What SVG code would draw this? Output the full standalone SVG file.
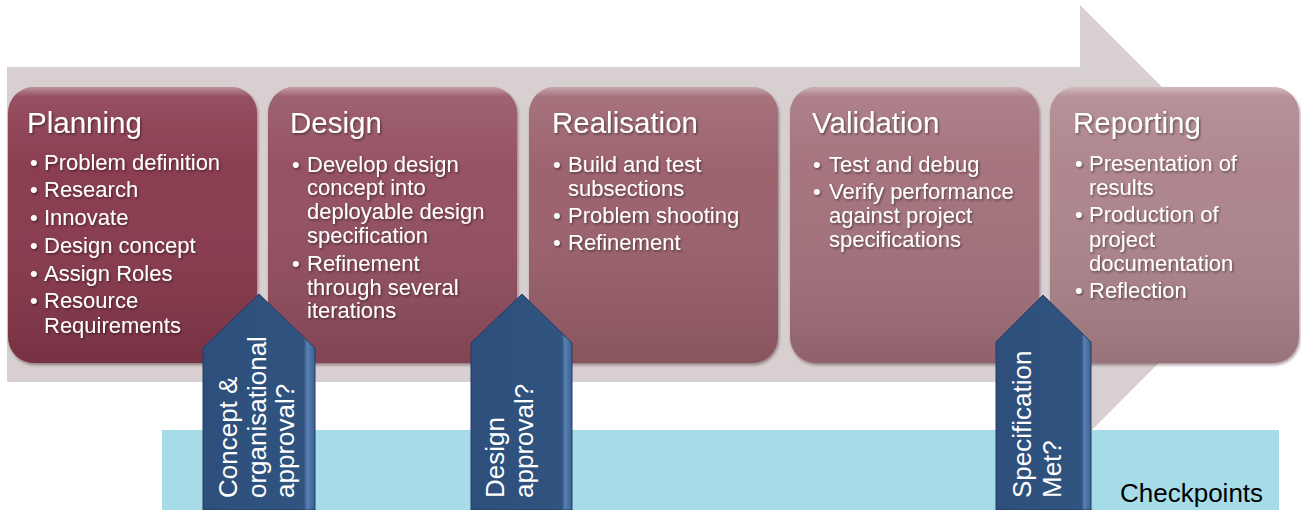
<svg xmlns="http://www.w3.org/2000/svg" width="1301" height="510" viewBox="0 0 1301 510">
  <defs>
    <linearGradient id="shade" x1="0" y1="0" x2="0" y2="1">
      <stop offset="0" stop-color="#ffffff" stop-opacity="0.45"/>
      <stop offset="0.035" stop-color="#ffffff" stop-opacity="0.12"/>
      <stop offset="0.3" stop-color="#ffffff" stop-opacity="0.03"/>
      <stop offset="1" stop-color="#000000" stop-opacity="0.12"/>
    </linearGradient>
    <linearGradient id="blueFill" x1="0" y1="0" x2="1" y2="0">
      <stop offset="0" stop-color="#2e4f7c"/>
      <stop offset="0.9" stop-color="#30537f"/>
      <stop offset="0.93" stop-color="#5a80b3"/>
      <stop offset="1" stop-color="#3b6193"/>
    </linearGradient>
    <filter id="boxShadow" x="-5%" y="-5%" width="110%" height="112%">
      <feDropShadow dx="1" dy="2" stdDeviation="1.5" flood-color="#3a1a22" flood-opacity="0.45"/>
    </filter>
    <filter id="txtShadow" x="-5%" y="-20%" width="110%" height="140%">
      <feDropShadow dx="1.2" dy="1.5" stdDeviation="0.8" flood-color="#000000" flood-opacity="0.45"/>
    </filter>
    <style>
      .box { stroke: none; }
      .title { font-family: "Liberation Sans", Arial, sans-serif; font-size: 29.5px; fill: #ffffff; }
      .item { font-family: "Liberation Sans", Arial, sans-serif; font-size: 22px; fill: #ffffff; }
      .cp { fill: url(#blueFill); stroke: #223c62; stroke-width: 1; }
      .cptxt { font-family: "Liberation Sans", Arial, sans-serif; font-size: 26px; fill: #ffffff; }
      .lbl { font-family: "Liberation Sans", Arial, sans-serif; font-size: 26px; fill: #000000; }
    </style>
  </defs>

  <!-- background process arrow -->
  <polygon points="7,67 1080,67 1080,5 1298,223 1080,442 1080,382 7,382" fill="#d7cfd0"/>
  <!-- checkpoint band -->
  <rect x="162" y="430" width="1117" height="80" fill="#a6dce8"/>
  <text class="lbl" x="1120" y="502">Checkpoints</text>

  <g id="connectors"/>

  <g id="planning">
    <rect class="box" x="8" y="87" width="249" height="276" rx="26" fill="#87394c" filter="url(#boxShadow)"/>
    <rect x="8" y="87" width="249" height="276" rx="26" fill="url(#shade)"/>
    <g filter="url(#txtShadow)">
      <text class="title" x="27" y="133">Planning</text>
      <text class="item" x="30" y="170">•</text><text class="item" x="44" y="170">Problem definition</text>
      <text class="item" x="30" y="197">•</text><text class="item" x="44" y="197">Research</text>
      <text class="item" x="30" y="225">•</text><text class="item" x="44" y="225">Innovate</text>
      <text class="item" x="30" y="253">•</text><text class="item" x="44" y="253">Design concept</text>
      <text class="item" x="30" y="281">•</text><text class="item" x="44" y="281">Assign Roles</text>
      <text class="item" x="30" y="308">•</text><text class="item" x="44" y="308">Resource</text>
      <text class="item" x="44" y="333">Requirements</text>
    </g>
  </g>

  <g id="design">
    <rect class="box" x="268" y="87" width="249" height="276" rx="26" fill="#924e5e" filter="url(#boxShadow)"/>
    <rect x="268" y="87" width="249" height="276" rx="26" fill="url(#shade)"/>
    <g filter="url(#txtShadow)">
      <text class="title" x="290" y="133">Design</text>
      <text class="item" x="292" y="172">•</text><text class="item" x="307" y="172">Develop design</text>
      <text class="item" x="307" y="195">concept into</text>
      <text class="item" x="307" y="219">deployable design</text>
      <text class="item" x="307" y="243">specification</text>
      <text class="item" x="292" y="271">•</text><text class="item" x="307" y="271">Refinement</text>
      <text class="item" x="307" y="295">through several</text>
      <text class="item" x="307" y="318">iterations</text>
    </g>
  </g>

  <g id="realisation">
    <rect class="box" x="529" y="87" width="249" height="276" rx="26" fill="#9a5e6a" filter="url(#boxShadow)"/>
    <rect x="529" y="87" width="249" height="276" rx="26" fill="url(#shade)"/>
    <g filter="url(#txtShadow)">
      <text class="title" x="552" y="133">Realisation</text>
      <text class="item" x="553" y="172">•</text><text class="item" x="568" y="172">Build and test</text>
      <text class="item" x="568" y="196">subsections</text>
      <text class="item" x="553" y="223">•</text><text class="item" x="568" y="223">Problem shooting</text>
      <text class="item" x="553" y="250">•</text><text class="item" x="568" y="250">Refinement</text>
    </g>
  </g>

  <g id="validation">
    <rect class="box" x="790" y="87" width="249" height="276" rx="26" fill="#a3707a" filter="url(#boxShadow)"/>
    <rect x="790" y="87" width="249" height="276" rx="26" fill="url(#shade)"/>
    <g filter="url(#txtShadow)">
      <text class="title" x="812" y="133">Validation</text>
      <text class="item" x="813" y="172">•</text><text class="item" x="829" y="172">Test and debug</text>
      <text class="item" x="813" y="199">•</text><text class="item" x="829" y="199">Verify performance</text>
      <text class="item" x="829" y="223">against project</text>
      <text class="item" x="829" y="247">specifications</text>
    </g>
  </g>

  <g id="reporting">
    <rect class="box" x="1050" y="87" width="249" height="276" rx="26" fill="#ad838b" filter="url(#boxShadow)"/>
    <rect x="1050" y="87" width="249" height="276" rx="26" fill="url(#shade)"/>
    <g filter="url(#txtShadow)">
      <text class="title" x="1073" y="133">Reporting</text>
      <text class="item" x="1075" y="171">•</text><text class="item" x="1089" y="171">Presentation of</text>
      <text class="item" x="1089" y="195">results</text>
      <text class="item" x="1075" y="222">•</text><text class="item" x="1089" y="222">Production of</text>
      <text class="item" x="1089" y="247">project</text>
      <text class="item" x="1089" y="271">documentation</text>
      <text class="item" x="1075" y="298">•</text><text class="item" x="1089" y="298">Reflection</text>
    </g>
  </g>

  <g id="checkpoint-concept">
    <polygon class="cp" points="203,510 203,348 259,294 315,348 315,510"/>
    <text class="cptxt" transform="translate(237,498) rotate(-90)">Concept &amp;</text>
    <text class="cptxt" transform="translate(266,498) rotate(-90)">organisational</text>
    <text class="cptxt" transform="translate(294,498) rotate(-90)">approval?</text>
  </g>

  <g id="checkpoint-design">
    <polygon class="cp" points="471,510 471,343 522,294 572,343 572,510"/>
    <text class="cptxt" transform="translate(504,498) rotate(-90)">Design</text>
    <text class="cptxt" transform="translate(533,498) rotate(-90)">approval?</text>
  </g>

  <g id="checkpoint-spec">
    <polygon class="cp" points="996,510 996,342 1043,295 1091,342 1091,510"/>
    <text class="cptxt" transform="translate(1031,498) rotate(-90)">Specification</text>
    <text class="cptxt" transform="translate(1061,498) rotate(-90)">Met?</text>
  </g>
</svg>
